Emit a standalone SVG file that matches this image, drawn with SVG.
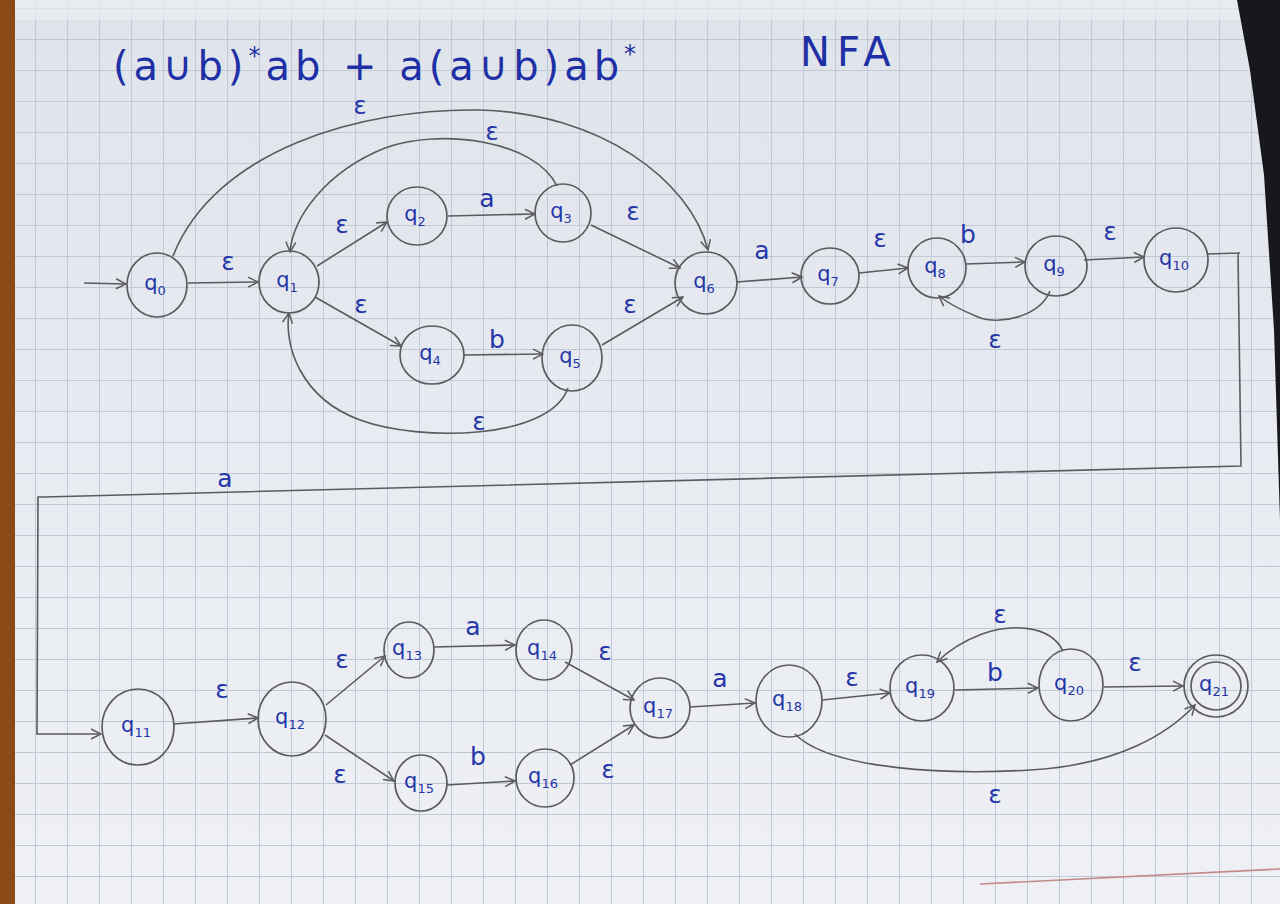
<svg xmlns="http://www.w3.org/2000/svg" width="1280" height="904" viewBox="0 0 1280 904">
<defs>
<linearGradient id="paper" x1="0" y1="0" x2="0" y2="1">
<stop offset="0" stop-color="#dfe3ea"/>
<stop offset="0.5" stop-color="#e8ebf1"/>
<stop offset="1" stop-color="#eef0f5"/>
</linearGradient>
<pattern id="grid" x="3" y="8" width="32" height="31" patternUnits="userSpaceOnUse">
<path d="M0,0.5 H32 M0.5,0 V31" fill="none" stroke="#c0c9d6" stroke-width="1.1"/>
</pattern>
<marker id="arr" viewBox="0 0 12 12" refX="11" refY="6" markerWidth="12" markerHeight="12" markerUnits="userSpaceOnUse" orient="auto">
<path d="M1,1 L11,6 L1,11" fill="none" stroke="#5b5b5e" stroke-width="1.5"/>
</marker>
</defs>
<style>
.st{fill:none;stroke:#5b5b5e;stroke-width:1.7}
.ed{fill:none;stroke:#5b5b5e;stroke-width:1.6}
.lb{fill:#2536a8;font-family:"DejaVu Sans","Liberation Sans",sans-serif;font-size:25px;text-anchor:middle}
.nq{fill:#2536a8;font-family:"DejaVu Sans","Liberation Sans",sans-serif;font-size:21px;text-anchor:middle}
.sub{font-size:13px}
.ttl{fill:#1f30a6;font-family:"DejaVu Sans","Liberation Sans",sans-serif;font-size:40px}
</style>
<rect x="0" y="0" width="1280" height="904" fill="url(#paper)"/>
<rect x="0" y="0" width="1280" height="904" fill="url(#grid)"/>
<rect x="0" y="0" width="1280" height="20" fill="#eef0f4" opacity="0.6"/>
<rect x="0" y="0" width="15" height="904" fill="#8b4a18"/>
<polygon points="1237,0 1280,0 1280,520 1274,330 1264,175 1250,70" fill="#18181c"/>
<line x1="980" y1="884" x2="1280" y2="869" stroke="#c28a8a" stroke-width="1.6"/>

<text class="ttl" x="113" y="80" letter-spacing="5">(a∪b)<tspan dy="-16" font-size="24">*</tspan><tspan dy="16">ab + a(a∪b)ab</tspan><tspan dy="-18" font-size="24">*</tspan></text>
<text class="ttl" x="800" y="66" letter-spacing="7">NFA</text>

<g id="connectors">
<line class="ed" x1="84" y1="283" x2="126" y2="284" marker-end="url(#arr)"/>
<line class="ed" x1="188" y1="283" x2="258" y2="282" marker-end="url(#arr)"/>
<path class="ed" d="M173,256 C215,150 360,108 480,110 C600,113 690,180 708,250" marker-end="url(#arr)"/>
<path class="ed" d="M557,186 C535,140 440,128 385,148 C325,172 293,218 290,252" marker-end="url(#arr)"/>
<line class="ed" x1="317" y1="266" x2="387" y2="222" marker-end="url(#arr)"/>
<line class="ed" x1="448" y1="216" x2="535" y2="214" marker-end="url(#arr)"/>
<line class="ed" x1="591" y1="225" x2="680" y2="268" marker-end="url(#arr)"/>
<line class="ed" x1="315" y1="297" x2="401" y2="346" marker-end="url(#arr)"/>
<line class="ed" x1="464" y1="355" x2="543" y2="354" marker-end="url(#arr)"/>
<line class="ed" x1="602" y1="345" x2="683" y2="297" marker-end="url(#arr)"/>
<path class="ed" d="M568,388 C550,440 420,442 360,420 C300,398 284,345 289,313" marker-end="url(#arr)"/>
<line class="ed" x1="737" y1="282" x2="802" y2="277" marker-end="url(#arr)"/>
<line class="ed" x1="859" y1="273" x2="908" y2="268" marker-end="url(#arr)"/>
<line class="ed" x1="966" y1="264" x2="1025" y2="262" marker-end="url(#arr)"/>
<line class="ed" x1="1084" y1="260" x2="1144" y2="257" marker-end="url(#arr)"/>
<path class="ed" d="M1050,291 C1040,316 1000,326 978,317 C956,308 944,300 939,296" marker-end="url(#arr)"/>
<polyline class="ed" points="1207,254 1240,253 1238,253 1241,466 44,497 38,497 37,734 101,734" marker-end="url(#arr)"/>
<line class="ed" x1="173" y1="724" x2="258" y2="718" marker-end="url(#arr)"/>
<line class="ed" x1="326" y1="705" x2="385" y2="656" marker-end="url(#arr)"/>
<line class="ed" x1="325" y1="735" x2="394" y2="781" marker-end="url(#arr)"/>
<line class="ed" x1="434" y1="647" x2="515" y2="645" marker-end="url(#arr)"/>
<line class="ed" x1="447" y1="785" x2="515" y2="781" marker-end="url(#arr)"/>
<line class="ed" x1="565" y1="662" x2="634" y2="700" marker-end="url(#arr)"/>
<line class="ed" x1="570" y1="765" x2="634" y2="725" marker-end="url(#arr)"/>
<line class="ed" x1="690" y1="707" x2="755" y2="703" marker-end="url(#arr)"/>
<line class="ed" x1="822" y1="700" x2="890" y2="693" marker-end="url(#arr)"/>
<line class="ed" x1="955" y1="690" x2="1038" y2="688" marker-end="url(#arr)"/>
<path class="ed" d="M1063,651 C1050,624 1010,624 982,634 C958,643 945,654 937,662" marker-end="url(#arr)"/>
<line class="ed" x1="1104" y1="687" x2="1183" y2="686" marker-end="url(#arr)"/>
<path class="ed" d="M795,734 C830,770 950,775 1030,770 C1120,765 1170,732 1195,705" marker-end="url(#arr)"/>

<text class="lb" x="228" y="270">ε</text>
<text class="lb" x="360" y="114">ε</text>
<text class="lb" x="492" y="140">ε</text>
<text class="lb" x="342" y="233">ε</text>
<text class="lb" x="487" y="207">a</text>
<text class="lb" x="633" y="220">ε</text>
<text class="lb" x="361" y="313">ε</text>
<text class="lb" x="497" y="348">b</text>
<text class="lb" x="630" y="313">ε</text>
<text class="lb" x="479" y="430">ε</text>
<text class="lb" x="762" y="259">a</text>
<text class="lb" x="880" y="247">ε</text>
<text class="lb" x="968" y="243">b</text>
<text class="lb" x="1110" y="240">ε</text>
<text class="lb" x="995" y="348">ε</text>
<text class="lb" x="225" y="487">a</text>
<text class="lb" x="222" y="698">ε</text>
<text class="lb" x="342" y="668">ε</text>
<text class="lb" x="340" y="783">ε</text>
<text class="lb" x="473" y="635">a</text>
<text class="lb" x="478" y="765">b</text>
<text class="lb" x="605" y="660">ε</text>
<text class="lb" x="608" y="778">ε</text>
<text class="lb" x="720" y="687">a</text>
<text class="lb" x="852" y="686">ε</text>
<text class="lb" x="995" y="681">b</text>
<text class="lb" x="1000" y="623">ε</text>
<text class="lb" x="1135" y="671">ε</text>
<text class="lb" x="995" y="803">ε</text>
</g>

<g id="q0"><ellipse class="st" cx="157" cy="285" rx="30" ry="32"/><text class="nq" x="155" y="290">q<tspan class="sub" dy="5">0</tspan></text></g>
<g id="q1"><ellipse class="st" cx="289" cy="282" rx="30" ry="31"/><text class="nq" x="287" y="287">q<tspan class="sub" dy="5">1</tspan></text></g>
<g id="q2"><ellipse class="st" cx="417" cy="216" rx="30" ry="29"/><text class="nq" x="415" y="221">q<tspan class="sub" dy="5">2</tspan></text></g>
<g id="q3"><ellipse class="st" cx="563" cy="213" rx="28" ry="29"/><text class="nq" x="561" y="218">q<tspan class="sub" dy="5">3</tspan></text></g>
<g id="q4"><ellipse class="st" cx="432" cy="355" rx="32" ry="29"/><text class="nq" x="430" y="360">q<tspan class="sub" dy="5">4</tspan></text></g>
<g id="q5"><ellipse class="st" cx="572" cy="358" rx="30" ry="33"/><text class="nq" x="570" y="363">q<tspan class="sub" dy="5">5</tspan></text></g>
<g id="q6"><ellipse class="st" cx="706" cy="283" rx="31" ry="31"/><text class="nq" x="704" y="288">q<tspan class="sub" dy="5">6</tspan></text></g>
<g id="q7"><ellipse class="st" cx="830" cy="276" rx="29" ry="28"/><text class="nq" x="828" y="281">q<tspan class="sub" dy="5">7</tspan></text></g>
<g id="q8"><ellipse class="st" cx="937" cy="268" rx="29" ry="30"/><text class="nq" x="935" y="273">q<tspan class="sub" dy="5">8</tspan></text></g>
<g id="q9"><ellipse class="st" cx="1056" cy="266" rx="31" ry="30"/><text class="nq" x="1054" y="271">q<tspan class="sub" dy="5">9</tspan></text></g>
<g id="q10"><ellipse class="st" cx="1176" cy="260" rx="32" ry="32"/><text class="nq" x="1174" y="265">q<tspan class="sub" dy="5">10</tspan></text></g>
<g id="q11"><ellipse class="st" cx="138" cy="727" rx="36" ry="38"/><text class="nq" x="136" y="732">q<tspan class="sub" dy="5">11</tspan></text></g>
<g id="q12"><ellipse class="st" cx="292" cy="719" rx="34" ry="37"/><text class="nq" x="290" y="724">q<tspan class="sub" dy="5">12</tspan></text></g>
<g id="q13"><ellipse class="st" cx="409" cy="650" rx="25" ry="28"/><text class="nq" x="407" y="655">q<tspan class="sub" dy="5">13</tspan></text></g>
<g id="q14"><ellipse class="st" cx="544" cy="650" rx="28" ry="30"/><text class="nq" x="542" y="655">q<tspan class="sub" dy="5">14</tspan></text></g>
<g id="q15"><ellipse class="st" cx="421" cy="783" rx="26" ry="28"/><text class="nq" x="419" y="788">q<tspan class="sub" dy="5">15</tspan></text></g>
<g id="q16"><ellipse class="st" cx="545" cy="778" rx="29" ry="29"/><text class="nq" x="543" y="783">q<tspan class="sub" dy="5">16</tspan></text></g>
<g id="q17"><ellipse class="st" cx="660" cy="708" rx="30" ry="30"/><text class="nq" x="658" y="713">q<tspan class="sub" dy="5">17</tspan></text></g>
<g id="q18"><ellipse class="st" cx="789" cy="701" rx="33" ry="36"/><text class="nq" x="787" y="706">q<tspan class="sub" dy="5">18</tspan></text></g>
<g id="q19"><ellipse class="st" cx="922" cy="688" rx="32" ry="33"/><text class="nq" x="920" y="693">q<tspan class="sub" dy="5">19</tspan></text></g>
<g id="q20"><ellipse class="st" cx="1071" cy="685" rx="32" ry="36"/><text class="nq" x="1069" y="690">q<tspan class="sub" dy="5">20</tspan></text></g>
<g id="q21"><ellipse class="st" cx="1216" cy="686" rx="32" ry="31"/><ellipse class="st" cx="1216" cy="686" rx="25" ry="24"/><text class="nq" x="1214" y="691">q<tspan class="sub" dy="5">21</tspan></text></g>
</svg>
